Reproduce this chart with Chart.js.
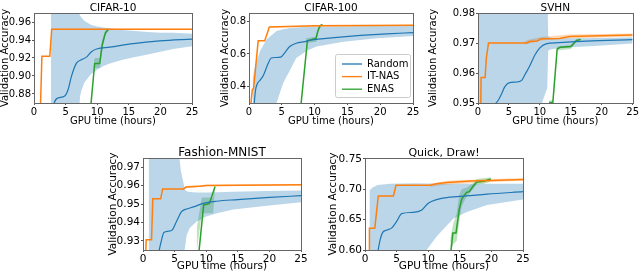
<!DOCTYPE html>
<html lang="en">
<head>
<meta charset="UTF-8">
<title>NAS validation accuracy vs GPU time</title>
<script src="https://cdn.jsdelivr.net/npm/chart.js"></script>
<style>
  body { margin: 0; background: #fff; }
  #wrap { position: relative; width: 640px; height: 273px; }
  #wrap canvas { position: absolute; left: 0; top: 0; }
</style>
</head>
<body>
<div id="wrap">
  <canvas id="c10" width="640" height="273"></canvas>
  <canvas id="c100" width="640" height="273"></canvas>
  <canvas id="svhn" width="640" height="273"></canvas>
  <canvas id="fmnist" width="640" height="273"></canvas>
  <canvas id="quickdraw" width="640" height="273"></canvas>
</div>
<script>
// ---- data: [hours, accuracy] and bands [hours, low, high] ----
const xTicks = [0, 5, 10, 15, 20, 25];

// CIFAR-10
const c10Random = [[3.0,0.862],[3.2,0.870],[3.8,0.8756],[4.8,0.8774],[5.4,0.885],[5.9,0.899],[6.7,0.914],[7.5,0.918],[8.3,0.921],[9.1,0.927],[9.9,0.930],[12,0.932],[15.7,0.936],[19.9,0.939],[25,0.941]];
const c10RandomBand = [[2.7,0.85,0.99],[6.5,0.85,0.985],[7.0,0.85,0.972],[7.3,0.878,0.967],[7.5,0.884,0.965],[8,0.893,0.961],[9,0.902,0.957],[10,0.907,0.955],[11,0.911,0.954],[12,0.914,0.953],[14,0.918,0.951],[16,0.921,0.950],[18,0.924,0.949],[20,0.927,0.948],[22,0.930,0.948],[25,0.933,0.947]];
const c10ItNas = [[1.0,0.86],[1.25,0.922],[2.5,0.922],[2.8,0.952],[25,0.952]];
const c10ItNasBand = [[2.8,0.9515,0.9525],[25,0.9515,0.9525]];
const c10Enas = [[8.9,0.86],[9.6,0.914],[10.4,0.914],[10.8,0.935],[11.3,0.948],[11.8,0.952]];
const c10EnasBand = [[9.5,0.905,0.918],[9.7,0.909,0.920],[10.4,0.909,0.920],[10.8,0.928,0.940],[11.3,0.945,0.951],[11.8,0.950,0.954]];
const c10YTicks = [0.88, 0.90, 0.92, 0.94, 0.96];

// CIFAR-100
const c100Random = [[0.8,0.30],[1.0,0.38],[1.3,0.42],[1.7,0.44],[2.2,0.47],[2.9,0.54],[3.4,0.575],[4,0.578],[4.8,0.58],[5.5,0.61],[6.2,0.645],[7.2,0.665],[8.5,0.675],[9.5,0.685],[11,0.692],[13,0.70],[17,0.713],[21,0.723],[25,0.73]];
const c100RandomBand = [[0.55,0.25,0.45],[0.9,0.25,0.52],[1.7,0.25,0.62],[2.7,0.25,0.69],[4.2,0.30,0.74],[5.2,0.42,0.75],[5.7,0.46,0.754],[6.25,0.50,0.758],[7.2,0.575,0.762],[8.8,0.62,0.764],[10.3,0.645,0.765],[14.4,0.675,0.768],[19.5,0.695,0.771],[25,0.71,0.774]];
const c100ItNas = [[0.3,0.30],[0.5,0.38],[0.7,0.39],[1.4,0.68],[2.4,0.68],[3.1,0.765],[10,0.772],[25,0.775]];
const c100ItNasBand = [[3.1,0.762,0.768],[25,0.772,0.778]];
const c100Enas = [[7.9,0.28],[8.9,0.68],[9.5,0.686],[10.2,0.695],[10.5,0.74],[10.8,0.772],[11.2,0.78]];
const c100EnasBand = [[8.7,0.667,0.695],[10.3,0.675,0.707],[10.6,0.74,0.76],[11.2,0.776,0.784]];
const c100YTicks = [0.4, 0.6, 0.8];

// SVHN
const svhnRandom = [[2.7,0.9495],[3.3,0.951],[3.8,0.953],[4.3,0.9553],[5.0,0.9567],[6.3,0.957],[7.1,0.9576],[7.6,0.9595],[8.4,0.9625],[9.2,0.9660],[10.0,0.9684],[11.0,0.9697],[13,0.9701],[17.5,0.9706],[25,0.9711]];
const svhnRandomBand = [[0,0.94,0.99],[9.7,0.945,0.99],[10.5,0.951,0.99],[11.2,0.955,0.99],[11.35,0.9675,0.972],[12,0.968,0.9716],[15,0.9686,0.9716],[20,0.9692,0.9717],[25,0.9698,0.9719]];
const svhnItNas = [[0.45,0.949],[0.5,0.9585],[1.15,0.9585],[1.35,0.965],[1.7,0.970],[7.9,0.970],[8.3,0.9705],[9.6,0.9707],[10.2,0.9714],[13.2,0.9715],[14.8,0.9722],[25,0.9727]];
const svhnItNasBand = [[7.5,0.9695,0.9705],[8.3,0.9698,0.9712],[10.2,0.9708,0.9720],[14.8,0.9716,0.9728],[25,0.9722,0.9732]];
const svhnEnas = [[11.5,0.9502],[12.1,0.9502],[12.8,0.968],[13.3,0.9686],[15.0,0.9688],[15.4,0.9697],[15.9,0.9708],[16.6,0.9712]];
const svhnEnasBand = [[11.5,0.9495,0.9508],[12.1,0.9495,0.951],[12.8,0.9675,0.9688],[15,0.968,0.9694],[15.9,0.9703,0.9714],[16.6,0.9708,0.9716]];
const svhnYTicks = [0.95, 0.96, 0.97, 0.98];

// Fashion-MNIST
const fmRandom = [[2.5,0.924],[2.9,0.930],[3.3,0.9345],[4.0,0.9352],[4.6,0.9358],[5.3,0.9405],[6.1,0.9458],[6.9,0.9473],[8,0.9484],[9.5,0.9503],[11.6,0.9515],[15,0.9524],[20,0.9536],[25,0.9545]];
const fmRandomBand = [[0.9,0.92,0.98],[5.6,0.92,0.98],[6.0,0.92,0.968],[6.4,0.92,0.9615],[6.6,0.925,0.958],[6.9,0.933,0.9569],[7.4,0.937,0.9565],[8.5,0.9405,0.9563],[10,0.9432,0.9563],[11.7,0.945,0.9564],[14.3,0.947,0.9566],[19.6,0.949,0.957],[25,0.951,0.9573]];
const fmItNas = [[0.45,0.924],[0.5,0.9306],[1.35,0.9306],[1.55,0.9528],[2.8,0.9528],[3.1,0.9582],[6.4,0.9582],[6.8,0.9592],[9,0.9596],[10,0.9601],[25,0.9605]];
const fmItNasBand = [[6.4,0.9578,0.9586],[6.8,0.9586,0.9598],[10,0.9597,0.9605],[25,0.9601,0.9609]];
const fmEnas = [[8.85,0.924],[9.6,0.9495],[10.5,0.9502],[11.4,0.9595]];
const fmEnasBand = [[8.5,0.924,0.937],[9.3,0.945,0.9536],[11.1,0.945,0.9536],[11.4,0.9585,0.9605]];
const fmYTicks = [0.93, 0.94, 0.95, 0.96, 0.97];

// Quick, Draw!
const qdRandom = [[2.05,0.598],[2.4,0.617],[2.8,0.629],[3.5,0.633],[4.2,0.636],[5.0,0.647],[5.8,0.66],[7.6,0.662],[9,0.666],[10,0.677],[11.3,0.683],[13.4,0.687],[16,0.689],[19.3,0.692],[25,0.696]];
const qdRandomBand = [[0.7,0.59,0.698],[1.2,0.59,0.703],[2,0.59,0.707],[4,0.59,0.709],[7.9,0.59,0.710],[9.75,0.60,0.7095],[11.3,0.622,0.709],[12.9,0.64,0.709],[14,0.652,0.709],[16,0.662,0.709],[19.3,0.674,0.709],[25,0.683,0.709]];
const qdItNas = [[0.65,0.598],[0.7,0.636],[1.55,0.636],[2.1,0.689],[4.5,0.689],[4.9,0.7065],[10.3,0.7065],[11.3,0.709],[13,0.711],[16.6,0.7135],[20,0.7145],[25,0.716]];
const qdItNasBand = [[10.3,0.704,0.709],[13,0.708,0.714],[20,0.712,0.717],[25,0.714,0.718]];
const qdEnas = [[13.6,0.598],[13.9,0.628],[14.4,0.628],[14.9,0.666],[15.3,0.684],[15.7,0.69],[16.1,0.695],[16.5,0.696],[17.1,0.705],[17.7,0.712],[18.8,0.713],[19.3,0.715],[19.9,0.717]];
const qdEnasBand = [[13.5,0.60,0.62],[14.0,0.61,0.645],[14.5,0.615,0.66],[14.9,0.645,0.69],[15.3,0.672,0.70],[16.1,0.688,0.703],[17.1,0.70,0.71],[17.7,0.708,0.717],[18.8,0.709,0.718],[19.9,0.713,0.72]];
const qdYTicks = [0.60, 0.65, 0.70, 0.75];

const seriesNames = ['Random', 'IT-NAS', 'ENAS'];
const colors = ['#1f77b4', '#ff7f0e', '#2ca02c'];
const bandColors = ['rgba(31,119,180,0.3)', 'rgba(255,127,14,0.3)', 'rgba(44,160,44,0.3)'];

Chart.defaults.font.family = 'DejaVu Sans';
Chart.defaults.color = '#000';

// axes frame, panel title and the in-plot legend
const decor = {
    id: 'decor',
    afterDraw(chart, args, opts) {
        const ctx = chart.ctx;
        const a = chart.chartArea;
        ctx.save();
        ctx.strokeStyle = '#666';
        ctx.lineWidth = 1;
        ctx.strokeRect(Math.round(a.left) + 0.5, Math.round(a.top) + 0.5, Math.round(a.right - a.left), Math.round(a.bottom - a.top));
        ctx.fillStyle = '#000';
        ctx.font = opts.titleSize + 'px "DejaVu Sans"';
        ctx.textAlign = 'center';
        ctx.textBaseline = 'alphabetic';
        ctx.fillText(opts.title, (a.left + a.right) / 2, a.top - 2.5);
        if (opts.legend) {
            const L = opts.legend;
            ctx.fillStyle = 'rgba(255,255,255,0.85)';
            ctx.strokeStyle = '#ccc';
            ctx.beginPath();
            ctx.roundRect(L.x + 0.5, L.y + 0.5, L.w, L.h, 2);
            ctx.fill();
            ctx.stroke();
            ctx.font = '10px "DejaVu Sans"';
            ctx.textAlign = 'left';
            ctx.textBaseline = 'middle';
            seriesNames.forEach((name, i) => {
                const y = L.y + 10 + i * 12.6;
                ctx.strokeStyle = colors[i];
                ctx.lineWidth = 1.3;
                ctx.beginPath();
                ctx.moveTo(L.x + 7, y);
                ctx.lineTo(L.x + 27, y);
                ctx.stroke();
                ctx.fillStyle = '#000';
                ctx.fillText(name, L.x + 32, y);
            });
        }
        ctx.restore();
    }
};

function pts(arr) { return arr.map(p => ({x: p[0], y: p[1]})); }
function band(arr, k) { return arr.map(p => ({x: p[0], y: p[k]})); }

function panel(id, p) {
    const lines = [p.random, p.itnas, p.enas];
    const bands = [p.randomBand, p.itnasBand, p.enasBand];
    const datasets = [];
    lines.forEach((d, i) => {
        datasets.push({
            label: seriesNames[i],
            data: pts(d),
            borderColor: colors[i],
            borderWidth: i === 0 ? 1.2 : 1.5,
            pointRadius: 0,
            cubicInterpolationMode: i === 0 ? 'monotone' : 'default',
            tension: 0,
            fill: false,
        });
    });
    bands.forEach((b, i) => {
        datasets.push({ data: band(b, 2), borderWidth: 0, pointRadius: 0, fill: false });
        datasets.push({ data: band(b, 1), borderWidth: 0, pointRadius: 0, fill: '-1', backgroundColor: bandColors[i] });
    });
    const [l, t, r, b] = p.box;
    new Chart(document.getElementById(id), {
        type: 'line',
        data: { datasets },
        options: {
            responsive: false,
            animation: false,
            devicePixelRatio: 1,
            layout: { padding: { left: p.yLeft, top: t, right: 640 - r, bottom: 273 - b - p.xh } },
            plugins: {
                legend: { display: false },
                tooltip: { enabled: false },
                filler: { drawTime: 'beforeDatasetsDraw' },
                decor: { title: p.title, titleSize: p.titleSize, legend: p.legend },
            },
            scales: {
                x: {
                    type: 'linear', min: 0, max: 25,
                    afterFit: s => { s.height = p.xh; },
                    afterBuildTicks: s => { s.ticks = xTicks.map(v => ({value: v})); },
                    grid: { drawOnChartArea: false, tickLength: 2, color: '#555' },
                    border: { display: false },
                    ticks: { font: { size: p.tickSize }, padding: 1, maxRotation: 0, callback: v => String(v) },
                    title: { display: true, text: 'GPU time (hours)', font: { size: p.labelSize, lineHeight: 1 }, padding: 0 },
                },
                y: {
                    min: p.yMin, max: p.yMax,
                    afterFit: s => { s.width = l - p.yLeft; },
                    afterBuildTicks: s => { s.ticks = p.yTicks.map(v => ({value: v})); },
                    grid: { drawOnChartArea: false, tickLength: 2, color: '#555' },
                    border: { display: false },
                    ticks: { font: { size: p.tickSize }, padding: 1, callback: v => v.toFixed(p.dec) },
                    title: { display: true, text: 'Validation Accuracy', font: { size: p.labelSize, lineHeight: 1 }, padding: 0 },
                },
            },
        },
        plugins: [decor],
    });
}

panel('c10', { title: 'CIFAR-10', box: [34, 13, 192, 103], yLeft: 0, xh: 23.5, yMin: 0.87, yMax: 0.97, yTicks: c10YTicks, dec: 2,
    random: c10Random, randomBand: c10RandomBand, itnas: c10ItNas, itnasBand: c10ItNasBand, enas: c10Enas, enasBand: c10EnasBand,
    tickSize: 10, labelSize: 10, titleSize: 10.5 });
panel('c100', { title: 'CIFAR-100', box: [249, 13, 413, 103], yLeft: 220, xh: 23.5, yMin: 0.30, yMax: 0.85, yTicks: c100YTicks, dec: 1,
    random: c100Random, randomBand: c100RandomBand, itnas: c100ItNas, itnasBand: c100ItNasBand, enas: c100Enas, enasBand: c100EnasBand,
    tickSize: 10, labelSize: 10, titleSize: 10.5, legend: { x: 335, y: 54, w: 75, h: 43 } });
panel('svhn', { title: 'SVHN', box: [478, 13, 633, 103], yLeft: 428, xh: 23.5, yMin: 0.95, yMax: 0.98, yTicks: svhnYTicks, dec: 2,
    random: svhnRandom, randomBand: svhnRandomBand, itnas: svhnItNas, itnasBand: svhnItNasBand, enas: svhnEnas, enasBand: svhnEnasBand,
    tickSize: 10, labelSize: 10, titleSize: 10.5 });
panel('fmnist', { title: 'Fashion-MNIST', box: [143, 158, 301, 250], yLeft: 108, xh: 22, yMin: 0.925, yMax: 0.975, yTicks: fmYTicks, dec: 2,
    random: fmRandom, randomBand: fmRandomBand, itnas: fmItNas, itnasBand: fmItNasBand, enas: fmEnas, enasBand: fmEnasBand,
    tickSize: 10.5, labelSize: 10.5, titleSize: 12 });
panel('quickdraw', { title: 'Quick, Draw!', box: [365, 158, 523, 250], yLeft: 328, xh: 22, yMin: 0.60, yMax: 0.7515, yTicks: qdYTicks, dec: 2,
    random: qdRandom, randomBand: qdRandomBand, itnas: qdItNas, itnasBand: qdItNasBand, enas: qdEnas, enasBand: qdEnasBand,
    tickSize: 10.5, labelSize: 10.5, titleSize: 11 });
</script>
</body>
</html>
